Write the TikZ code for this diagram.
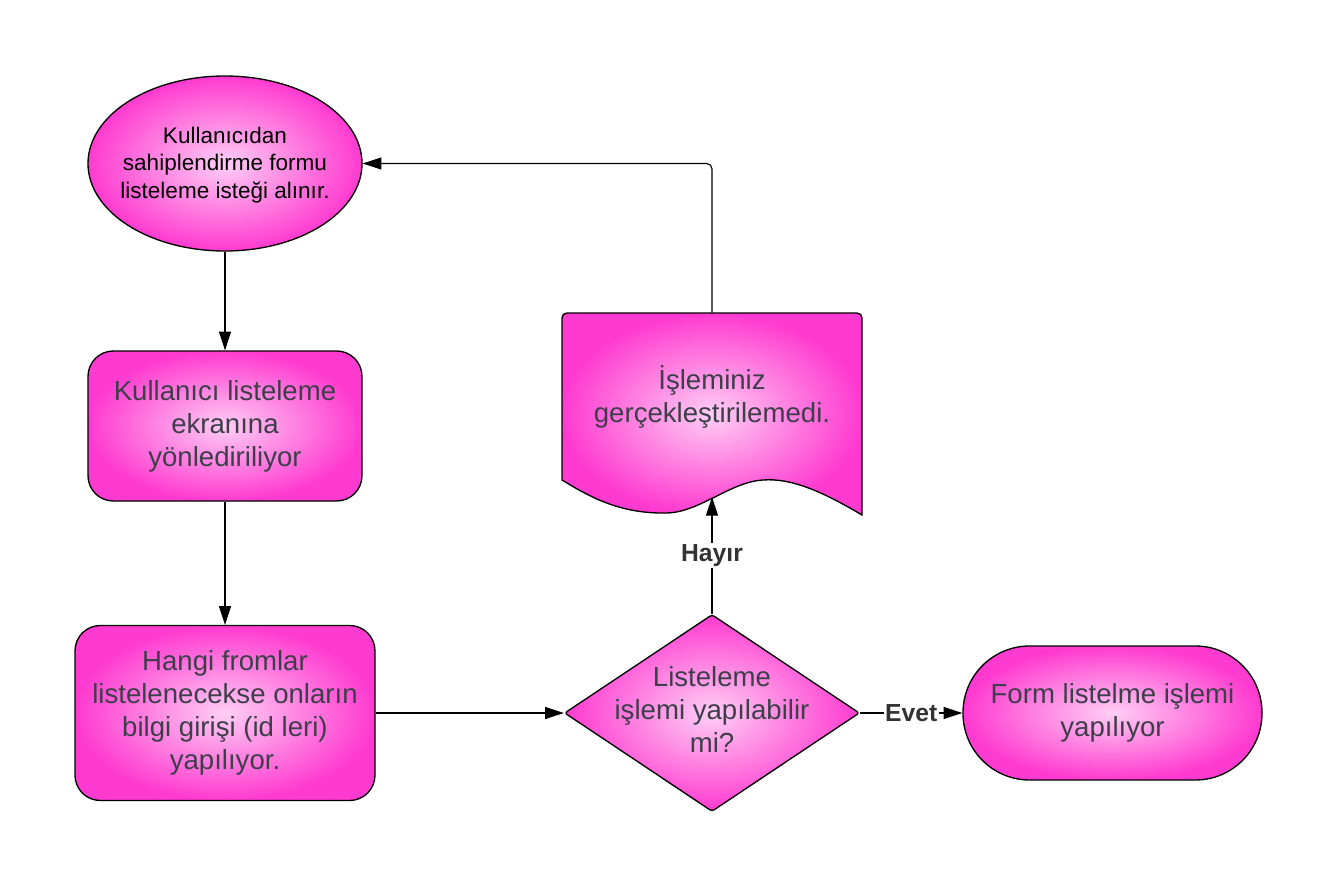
\documentclass[tikz,border=0pt]{standalone}
\usepackage{fontspec}
\setmainfont{Liberation Sans}
\usetikzlibrary{shapes.geometric,arrows.meta}

\definecolor{pinkin}{RGB}{255,206,244}
\definecolor{pinkout}{RGB}{255,58,208}
\definecolor{textgray}{RGB}{62,62,74}
\definecolor{lblgray}{RGB}{51,51,51}

\tikzset{
  pinkfill/.style={draw, line width=1pt, inner color=pinkin, outer color=pinkout},
  procbox/.style={pinkfill, rectangle, rounded corners=19pt, inner sep=0pt, align=center, text=textgray, font=\fontsize{20.7}{24.75}\selectfont},
  txt/.style={align=center, text=textgray, inner sep=0pt, font=\fontsize{20.7}{24.75}\selectfont},
  arr/.style={line width=0.85pt, -{Triangle[length=14pt,width=9pt]}},
  lbl/.style={fill=white, inner sep=1pt, text=lblgray, font=\fontsize{18.5}{20}\selectfont\bfseries}
}

\begin{document}
\begin{tikzpicture}[x=0.75pt,y=0.75pt,yscale=-1,xscale=1]
\useasboundingbox (0,0) rectangle (1339,888);

%Shape: Ellipse
\node[pinkfill, ellipse, inner sep=0pt, minimum width=205.5pt, minimum height=131.25pt] (start) at (225,163.5) {};
% Text Node
\node[txt, text=black, font=\fontsize{16.9}{20.6}\selectfont] (starttext) at (225,165) {Kullanıcıdan\\sahiplendirme formu\\listeleme isteği alınır.};

%Shape: Rounded Rect
\node[procbox, minimum width=205.5pt, minimum height=112.5pt] (screen) at (225,426) {Kullanıcı listeleme\\ekranına\\yönlediriliyor};
%Shape: Rounded Rect
\node[procbox, minimum width=225pt, minimum height=131.25pt] (input) at (225,713) {Hangi fromlar\\listelenecekse onların\\bilgi girişi (id leri)\\yapılıyor.};

%Shape: Diamond
\node[pinkfill, diamond, inner sep=0pt, rounded corners=2pt, minimum width=221.25pt, minimum height=147.75pt] (check) at (712,713) {};
% Text Node
\node[txt] (checktext) at (712,709) {Listeleme\\işlemi yapılabilir\\mi?};

%Shape: Stadium
\node[procbox, rounded corners=50pt, minimum width=224.25pt, minimum height=100.5pt] (done) at (1112.5,713) {Form listelme işlemi\\yapılıyor};

%Shape: Document
\shadedraw[pinkfill] (562,480) -- (562,318) .. controls (562,315) and (564,313) .. (567,313) -- (857,313) .. controls (860,313) and (862,315) .. (862,318) -- (862,515) .. controls (820,490) and (790,478) .. (763,480) .. controls (730,482) and (700,512) .. (667,513) .. controls (620,514) and (590,497) .. (562,480) -- cycle ;
\node[txt, rectangle, minimum width=225pt, minimum height=125.25pt] (doc) at (712,396.5) {İşleminiz\\gerçekleştirilemedi.};
\coordinate (docwave) at (712,497);

%Straight Lines
\draw[arr] (start) -- (screen);
\draw[arr] (screen) -- (input);
\draw[arr] (input) -- (check);
\draw[arr] (check) -- node[lbl] (evet) {Evet} (done);
\draw[arr] (check) -- node[lbl] (hayir) {Hayır} (docwave);
\draw[arr, rounded corners=4pt] (doc.north) |- (start.east);

\end{tikzpicture}
\end{document}
